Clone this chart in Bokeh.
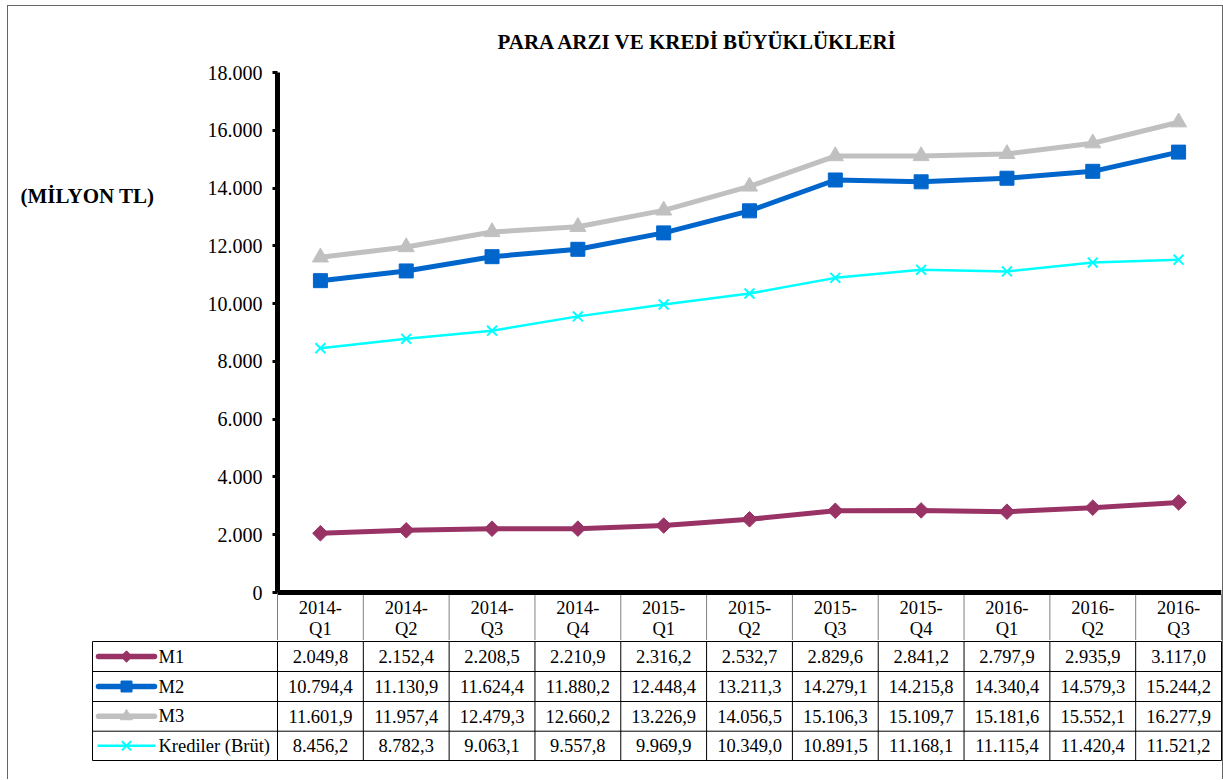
from bokeh.plotting import figure
from bokeh.layouts import column, row
from bokeh.models import Range1d, ColumnDataSource, Span, FixedTicker
from bokeh.core.properties import value
from bokeh.embed import file_html
from bokeh.resources import INLINE
import math

# ---------------- data ----------------
quarters = ["2014-Q1", "2014-Q2", "2014-Q3", "2014-Q4",
            "2015-Q1", "2015-Q2", "2015-Q3", "2015-Q4",
            "2016-Q1", "2016-Q2", "2016-Q3"]
m1 = [2049.8, 2152.4, 2208.5, 2210.9, 2316.2, 2532.7, 2829.6, 2841.2, 2797.9, 2935.9, 3117.0]
m2 = [10794.4, 11130.9, 11624.4, 11880.2, 12448.4, 13211.3, 14279.1, 14215.8, 14340.4, 14579.3, 15244.2]
m3 = [11601.9, 11957.4, 12479.3, 12660.2, 13226.9, 14056.5, 15106.3, 15109.7, 15181.6, 15552.1, 16277.9]
krediler = [8456.2, 8782.3, 9063.1, 9557.8, 9969.9, 10349.0, 10891.5, 11168.1, 11115.4, 11420.4, 11521.2]
series_names = ["M1", "M2", "M3", "Krediler (Brüt)"]
y_ticks = [0, 2000, 4000, 6000, 8000, 10000, 12000, 14000, 16000, 18000]
title_text = "PARA ARZI VE KREDİ BÜYÜKLÜKLERİ"
unit_text = "(MİLYON TL)"

# ---------------- styles ----------------
FONT = value("Liberation Serif")
styles = [
    dict(color="#993366", lw=5, marker="square", size=11, angle=math.pi / 4, mlw=1, lsize=8),
    dict(color="#0066CC", lw=5, marker="square", size=14, angle=0, mlw=1, lsize=11),
    dict(color="#C0C0C0", lw=5, marker="triangle", size=16, angle=0, mlw=1, lsize=12),
    dict(color="#00FFFF", lw=2.5, marker="x", size=14, angle=0, mlw=2, lsize=13),
]
series_vals = [m1, m2, m3, krediler]

def tr_fmt(v):
    s = f"{v:,.1f}"
    return s.replace(",", "X").replace(".", ",").replace("X", ".")

n = len(quarters)
xs = [i + 0.5 for i in range(n)]
years = [q.split("-")[0] + "-" for q in quarters]
qs = [q.split("-")[1] for q in quarters]

# ---------------- geometry (pixels) ----------------
FRAME_W = 944            # plot frame width (11 columns)
COL = FRAME_W / n
PLOT_H = 520             # 0 .. 18000
STRIP = 48               # header row below the x axis line
y_per_px = 18000 / PLOT_H
TOP = 66
LEFT_W = 182
A_LEFT = 87

# ---------------- main chart ----------------
yr = Range1d(-STRIP * y_per_px, 18000)
p = figure(frame_width=FRAME_W, frame_height=PLOT_H + STRIP,
           x_range=Range1d(0, n), y_range=yr,
           min_border_left=A_LEFT, min_border_right=1, min_border_top=TOP, min_border_bottom=0,
           x_axis_location=None, toolbar_location=None, output_backend="svg",
           title=title_text)
p.extra_y_ranges = {"px": Range1d(-STRIP, PLOT_H)}
p.grid.visible = False
p.outline_line_color = None
p.background_fill_color = "white"
p.border_fill_color = "white"

p.title.text_font = "Liberation Serif"
p.title.text_font_size = "21px"
p.title.text_font_style = "bold"
p.title.text_color = "black"
p.title.align = "left"
p.title.offset = 220
p.title.standoff = 37

ya = p.yaxis[0]
ya.ticker = FixedTicker(ticks=y_ticks)
ya.bounds = (0, 18000)
ya.major_label_overrides = {t: f"{t:,}".replace(",", ".") for t in y_ticks}
ya.major_label_text_font = "Liberation Serif"
ya.major_label_text_font_size = "20px"
ya.major_label_text_color = "black"
ya.major_label_standoff = 10
ya.axis_line_width = 5
ya.axis_line_color = "black"
ya.major_tick_line_width = 3
ya.major_tick_out = 5
ya.major_tick_in = 0
ya.minor_tick_line_color = None

# thick x base line
p.add_layout(Span(location=0, dimension="width", line_color="black", line_width=5))

# header row of the data table (under the axis line)
p.segment(x0=list(range(n + 1)), y0=[-2] * (n + 1), x1=list(range(n + 1)),
          y1=[-STRIP] * (n + 1), y_range_name="px",
          line_color=["black"] + ["#808080"] * (n - 1) + ["black"], line_width=1)
p.text(x=xs, y=[-15] * n, text=years, y_range_name="px", text_font=FONT,
       text_font_size="18.5px", text_align="center", text_baseline="middle", text_color="black")
p.text(x=xs, y=[-36] * n, text=qs, y_range_name="px", text_font=FONT,
       text_font_size="18.5px", text_align="center", text_baseline="middle", text_color="black")

for vals, st in zip(series_vals, styles):
    src = ColumnDataSource(dict(x=xs, y=vals))
    p.line("x", "y", source=src, line_color=st["color"], line_width=st["lw"])
    p.scatter("x", "y", source=src, marker=st["marker"], size=st["size"], angle=st["angle"],
              fill_color=st["color"], line_color=st["color"], line_width=st["mlw"])

# left panel with the unit label
lp = figure(frame_width=LEFT_W, frame_height=PLOT_H + STRIP,
            x_range=Range1d(0, LEFT_W), y_range=yr,
            min_border_left=0, min_border_right=0, min_border_top=TOP, min_border_bottom=0,
            x_axis_location=None, y_axis_location=None, toolbar_location=None,
            output_backend="svg", title=None)
lp.grid.visible = False
lp.outline_line_color = None
lp.border_fill_color = "white"
lp.text(x=[12], y=[(592 - 195) * y_per_px], text=[unit_text], text_font=FONT,
        text_font_size="21px", text_font_style="bold", text_align="left",
        text_baseline="middle", text_color="black")

# ---------------- data table body ----------------
T_LEFT = 82                     # border left of table figure
leg_px = 277 - 92               # legend column width
pad_px = 2
x_start = -(leg_px + pad_px) / COL
t = figure(frame_width=FRAME_W + leg_px + pad_px + 1, frame_height=122,
           x_range=Range1d(x_start, n + 1 / COL), y_range=Range1d(-2, 120),
           min_border_left=T_LEFT, min_border_right=0, min_border_top=0, min_border_bottom=17,
           x_axis_location=None, y_axis_location=None, toolbar_location=None,
           output_backend="svg", title=None)
t.grid.visible = False
t.outline_line_color = None
t.border_fill_color = "white"

leg_x0 = -leg_px / COL
row_lines = [0, 29.3, 59, 89, 119]
row_centers = [104, 74, 44.2, 14.7]

t.segment(x0=[leg_x0] * len(row_lines), y0=row_lines, x1=[n] * len(row_lines), y1=row_lines,
          line_color="black", line_width=1)
vx = [leg_x0] + list(range(n + 1))
t.segment(x0=vx, y0=[0] * len(vx), x1=vx, y1=[119] * len(vx), line_color="black", line_width=1)

for name, vals, st, yc in zip(series_names, series_vals, styles, row_centers):
    t.text(x=xs, y=[yc] * n, text=[tr_fmt(v) for v in vals], text_font=FONT,
           text_font_size="18.5px", text_align="center", text_baseline="middle",
           text_color="black")
    t.line(x=[(98 - 277) / COL, (154 - 277) / COL], y=[yc, yc], line_color=st["color"],
           line_width=st["lw"] if st["lw"] < 5 else 5.5, line_cap="round")
    t.scatter(x=[(126 - 277) / COL], y=[yc], marker=st["marker"], size=st["lsize"],
              angle=st["angle"], fill_color=st["color"], line_color=st["color"],
              line_width=st["mlw"])
    t.text(x=[(158 - 277) / COL], y=[yc], text=[name], text_font=FONT, text_font_size="18.5px",
           text_align="left", text_baseline="middle", text_color="black")

layout = column(row(lp, p), row(t), spacing=0,
                styles={"border-top": "1px solid #666666", "border-left": "1px solid #666666",
                        "border-right": "1px solid #666666",
                        "margin-left": "7px", "margin-top": "5px"})
open("out.html", "w").write(file_html(layout, INLINE))
